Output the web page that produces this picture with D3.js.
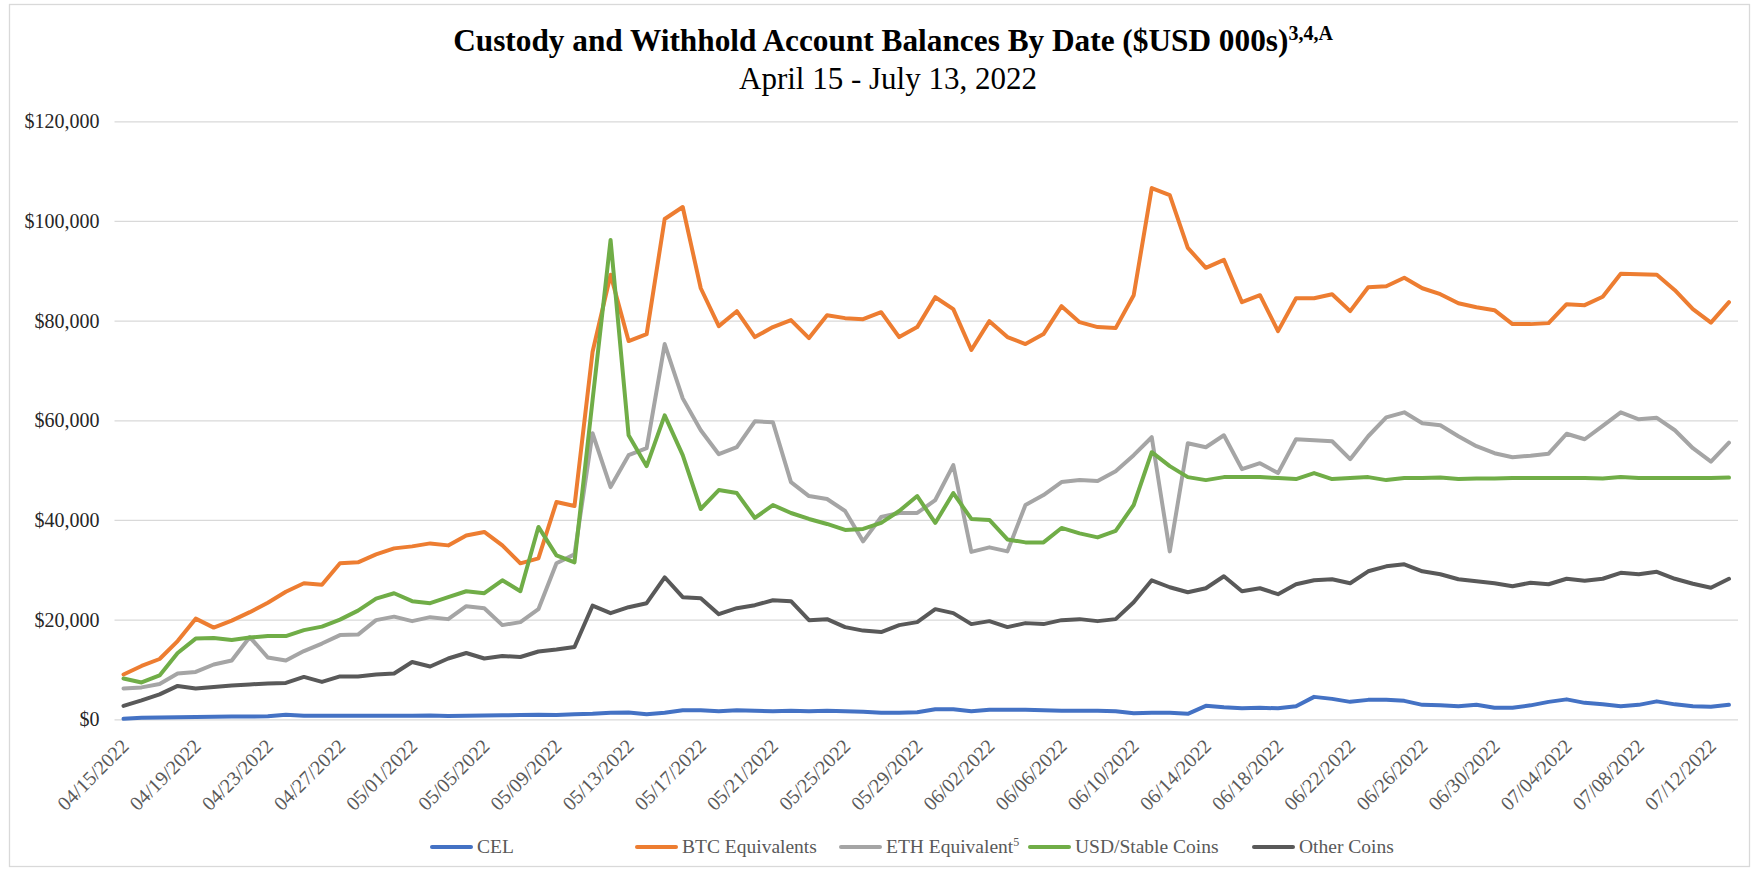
<!DOCTYPE html>
<html>
<head>
<meta charset="utf-8">
<script src="https://cdn.jsdelivr.net/npm/d3@7"></script>
<style>
  html, body { margin: 0; padding: 0; background: #ffffff; }
  svg { display: block; }
  text { font-family: "Liberation Serif", "Times New Roman", serif; }
</style>
</head>
<body>
<svg id="chart" width="1758" height="871"></svg>
<script>
// ---------------- DATA ----------------
const dates = [
  "04/15/2022","04/16/2022","04/17/2022","04/18/2022","04/19/2022","04/20/2022","04/21/2022","04/22/2022",
  "04/23/2022","04/24/2022","04/25/2022","04/26/2022","04/27/2022","04/28/2022","04/29/2022","04/30/2022",
  "05/01/2022","05/02/2022","05/03/2022","05/04/2022","05/05/2022","05/06/2022","05/07/2022","05/08/2022",
  "05/09/2022","05/10/2022","05/11/2022","05/12/2022","05/13/2022","05/14/2022","05/15/2022","05/16/2022",
  "05/17/2022","05/18/2022","05/19/2022","05/20/2022","05/21/2022","05/22/2022","05/23/2022","05/24/2022",
  "05/25/2022","05/26/2022","05/27/2022","05/28/2022","05/29/2022","05/30/2022","05/31/2022","06/01/2022",
  "06/02/2022","06/03/2022","06/04/2022","06/05/2022","06/06/2022","06/07/2022","06/08/2022","06/09/2022",
  "06/10/2022","06/11/2022","06/12/2022","06/13/2022","06/14/2022","06/15/2022","06/16/2022","06/17/2022",
  "06/18/2022","06/19/2022","06/20/2022","06/21/2022","06/22/2022","06/23/2022","06/24/2022","06/25/2022",
  "06/26/2022","06/27/2022","06/28/2022","06/29/2022","06/30/2022","07/01/2022","07/02/2022","07/03/2022",
  "07/04/2022","07/05/2022","07/06/2022","07/07/2022","07/08/2022","07/09/2022","07/10/2022","07/11/2022",
  "07/12/2022","07/13/2022"
];

// values in $USD 000s
const cel = [
  100,300,350,400,450,500,550,550,600,900,700,700,700,700,700,700,
  700,750,650,700,750,800,850,900,850,1000,1100,1300,1350,1000,1300,1800,
  1800,1600,1800,1700,1600,1700,1600,1700,1600,1500,1300,1300,1400,2000,2000,1600,
  1900,1900,1900,1800,1700,1700,1700,1600,1200,1300,1300,1100,2700,2400,2200,2300,
  2200,2600,4500,4100,3500,3900,3900,3700,2900,2800,2600,2900,2300,2300,2800,3500,
  4000,3300,3000,2600,2900,3600,3000,2600,2500,2900
];
const btc = [
  9000,10700,12100,15700,20200,18400,19800,21500,23400,25600,27300,27000,31300,31500,33100,34300,
  34700,35300,34900,36900,37600,34900,31300,32300,43600,42800,73700,89200,75900,77300,100400,102800,
  86500,78900,81900,76700,78700,80100,76500,81100,80500,80300,81700,76700,78700,84700,82300,74100,
  79900,76700,75300,77300,82900,79700,78700,78500,85100,106600,105200,94600,90600,92200,83700,85100,
  77900,84500,84500,85300,81900,86700,86900,88600,86500,85300,83500,82700,82100,79300,79300,79500,
  83300,83100,84800,89400,89300,89200,86100,82300,79600,83700
];
const eth = [
  6200,6400,7100,9200,9500,11000,11800,16500,12400,11800,13700,15200,16900,17000,19900,20600,
  19700,20500,20100,22700,22300,18900,19500,22100,31300,33100,57400,46600,53000,54400,75300,64400,
  58000,53200,54600,59800,59600,47600,44800,44200,41800,35700,40600,41400,41400,44000,51000,33600,
  34500,33700,43000,45000,47600,48000,47800,49800,53000,56600,33700,55400,54600,57000,50200,51400,
  49400,56200,56000,55800,52200,56800,60600,61600,59400,59000,56800,54800,53400,52600,52900,53300,
  57300,56200,58900,61600,60200,60500,58000,54400,51700,55500
];
const usd = [
  8200,7400,8800,13300,16200,16300,15900,16400,16700,16700,17900,18600,20000,21800,24200,25300,
  23700,23300,24500,25700,25300,27900,25700,38600,32900,31500,64000,96200,57000,50800,61000,53000,
  42200,46000,45400,40400,43000,41400,40200,39200,38000,38200,39400,41800,44800,39400,45400,40200,
  40000,36100,35500,35500,38400,37300,36500,37800,43000,53600,50800,48600,48000,48600,48600,48600,
  48400,48200,49400,48200,48400,48600,48000,48400,48400,48500,48200,48300,48300,48400,48400,48400,
  48400,48400,48300,48600,48400,48400,48400,48400,48400,48500
];
const other = [
  2700,3800,5000,6700,6200,6500,6800,7000,7200,7300,8500,7500,8600,8600,9000,9200,
  11500,10600,12200,13300,12200,12700,12500,13600,14000,14500,22800,21300,22500,23300,28500,24500,
  24300,21100,22300,22900,23900,23700,19900,20100,18500,17800,17500,18900,19500,22100,21300,19100,
  19700,18500,19300,19100,19900,20100,19700,20100,23500,27900,26500,25500,26300,28700,25700,26300,
  25100,27100,27900,28100,27300,29700,30700,31100,29700,29100,28100,27700,27300,26700,27400,27100,
  28200,27800,28200,29400,29100,29600,28200,27200,26400,28200
];

const seriesNames  = ["CEL", "BTC Equivalents", "ETH Equivalent", "USD/Stable Coins", "Other Coins"];
const seriesSup    = ["", "", "5", "", ""];
const seriesValues = [cel, btc, eth, usd, other];
const seriesColors = ["#4472C4", "#ED7D31", "#A5A5A5", "#70AD47", "#595959"];

const yTickValues = [0, 20000, 40000, 60000, 80000, 100000, 120000];
const xLabelEvery = 4;

const titleText = "Custody and Withhold Account Balances By Date ($USD 000s)";
const titleSup = "3,4,A";
const subtitleText = "April 15 - July 13, 2022";

// ---------------- LAYOUT ----------------
const plot = { left: 114.5, right: 1738, top: 121.3, bottom: 719.3 };

const svg = d3.select("#chart");

// chart frame
svg.append("rect")
  .attr("x", 9.5).attr("y", 4.5)
  .attr("width", 1740).attr("height", 862)
  .attr("fill", "#fff").attr("stroke", "#d9d9d9").attr("stroke-width", 1.3);

const x = d3.scalePoint().domain(dates).range([plot.left, plot.right]).padding(0.5);
const y = d3.scaleLinear().domain([0, 120000]).range([plot.bottom, plot.top]);

// gridlines via axis
const grid = svg.append("g")
  .attr("transform", `translate(${plot.left},0)`)
  .call(d3.axisLeft(y).tickValues(yTickValues).tickSize(-(plot.right - plot.left)).tickFormat(""));
grid.select(".domain").remove();
grid.selectAll("line").attr("stroke", "#d9d9d9").attr("stroke-width", 1.3);

// y-axis labels
const yAxis = svg.append("g")
  .attr("transform", `translate(${plot.left},0)`)
  .call(d3.axisLeft(y).tickValues(yTickValues).tickSize(0).tickPadding(15)
    .tickFormat(d => "$" + d3.format(",")(d)));
yAxis.select(".domain").remove();
yAxis.selectAll("text")
  .attr("font-family", "Liberation Serif, Times New Roman, serif")
  .attr("font-size", 20).attr("fill", "#262626").attr("dy", "0.33em");

// x-axis labels
const xAxis = svg.append("g")
  .attr("transform", `translate(0,${plot.bottom})`)
  .call(d3.axisBottom(x)
    .tickValues(dates.filter((d, i) => i % xLabelEvery === 0))
    .tickSize(0).tickPadding(0));
xAxis.select(".domain").remove();
xAxis.selectAll(".tick text")
  .attr("font-family", "Liberation Serif, Times New Roman, serif")
  .attr("font-size", 20).attr("fill", "#595959")
  .attr("text-anchor", "end")
  .attr("dy", null)
  .attr("y", 0)
  .attr("transform", "translate(6,28) rotate(-45)");

// lines
const line = d3.line()
  .x((d, i) => x(dates[i]))
  .y(d => y(d));

seriesValues.forEach((vals, k) => {
  svg.append("path")
    .datum(vals)
    .attr("d", line)
    .attr("fill", "none")
    .attr("stroke", seriesColors[k])
    .attr("stroke-width", 4)
    .attr("stroke-linejoin", "round")
    .attr("stroke-linecap", "round");
});

// title
const title = svg.append("text")
  .attr("x", 893).attr("y", 51)
  .attr("text-anchor", "middle")
  .attr("font-size", 31.3).attr("font-weight", "bold").attr("fill", "#000");
title.append("tspan").text(titleText);
title.append("tspan").attr("font-size", 20).attr("dy", -11).text(titleSup);

svg.append("text")
  .attr("x", 888).attr("y", 89)
  .attr("text-anchor", "middle")
  .attr("font-size", 31).attr("fill", "#000")
  .text(subtitleText);

// legend
const legendX = [432, 637, 841, 1030, 1254];
const legendY = 847;
const lg = svg.append("g");
seriesNames.forEach((name, k) => {
  lg.append("line")
    .attr("x1", legendX[k]).attr("x2", legendX[k] + 39)
    .attr("y1", legendY).attr("y2", legendY)
    .attr("stroke", seriesColors[k]).attr("stroke-width", 4)
    .attr("stroke-linecap", "round");
  const t = lg.append("text")
    .attr("x", legendX[k] + 45).attr("y", legendY)
    .attr("dy", "0.33em")
    .attr("font-size", 19.5).attr("fill", "#595959");
  t.append("tspan").text(name);
  if (seriesSup[k]) t.append("tspan").attr("font-size", 12).attr("dy", -7).text(seriesSup[k]);
});
</script>
</body>
</html>
